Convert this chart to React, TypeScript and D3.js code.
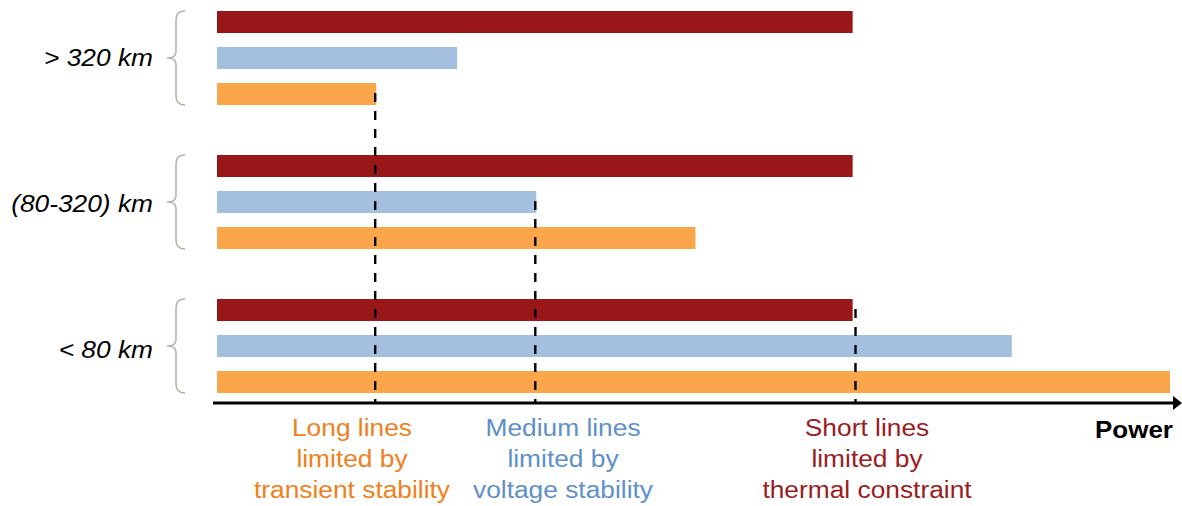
import React from "react";
import * as d3 from "d3";

const groups = ["> 320 km", "(80-320) km", "< 80 km"];
const series = ["thermal", "voltage", "transient"];
const thermalValues = [66.7, 66.7, 66.7];
const voltageValues = [25.2, 33.5, 83.4];
const transientValues = [16.7, 50.2, 100];
const limitValues = [16.6, 33.4, 67.0];
const limitFromGroup = [0, 1, 2];
const limitFromSeries = ["transient", "voltage", "thermal"];
const limitLabels = [
  ["Long lines", "limited by", "transient stability"],
  ["Medium lines", "limited by", "voltage stability"],
  ["Short lines", "limited by", "thermal constraint"],
];
const axisLabel = "Power";

const barColors: Record<string, string> = {
  thermal: "#9a1719",
  voltage: "#a4c0e0",
  transient: "#fca64c",
};
const textColors = ["#ef801c", "#5d90cc", "#9b1c1f"];
const labelCenters = [352, 563, 867];

export default function App() {
  const W = 1182, H = 506;
  const x = d3.scaleLinear().domain([0, 100]).range([217, 1170]);
  const yG = d3.scaleBand<string>().domain(groups).range([11, 11 + 144 * 3]).paddingInner(0);
  const yS = d3.scaleBand<string>().domain(series).range([0, 94]).paddingInner(14 / 36).paddingOuter(0);
  const values: Record<string, number[]> = {
    thermal: thermalValues,
    voltage: voltageValues,
    transient: transientValues,
  };
  const axisY = 403;
  const font = "Liberation Sans, Arial, sans-serif";

  const brace = (top: number, bottom: number) => {
    const mid = (top + bottom) / 2;
    const xr = 185, xs = 176, xt = 167;
    return `M${xr},${top} Q${xs},${top} ${xs},${top + 9} L${xs},${mid - 6} Q${xs},${mid} ${xt},${mid} Q${xs},${mid} ${xs},${mid + 6} L${xs},${bottom - 9} Q${xs},${bottom} ${xr},${bottom}`;
  };

  return (
    <svg width={W} height={H} style={{ position: "absolute", left: 0, top: 0, background: "#fff" }}>
      {groups.map((g, gi) => {
        const gy = yG(g)!;
        return (
          <g key={g}>
            {series.map((s) => (
              <rect key={s} x={x(0)} y={gy + yS(s)!} width={x(values[s][gi]) - x(0)} height={yS.bandwidth()} fill={barColors[s]} />
            ))}
            <path d={brace(gy, gy + 94)} fill="none" stroke="#b3b0a4" strokeWidth={1.5} />
            <text
              transform={`translate(153,${gy + 55 + gi * 2}) scale(1.12,1)`}
              textAnchor="end"
              fontFamily={font}
              fontStyle="italic"
              fontSize={23.5}
              fill="#000"
            >
              {g}
            </text>
          </g>
        );
      })}
      {limitValues.map((v, i) => {
        const gy = yG(groups[limitFromGroup[i]])!;
        const top = gy + yS(limitFromSeries[i])! + 10;
        return (
          <line key={i} x1={x(v)} x2={x(v)} y1={top} y2={axisY} stroke="#000" strokeWidth={2.4} strokeDasharray="9 9" />
        );
      })}
      <line x1={213} x2={1176} y1={axisY} y2={axisY} stroke="#000" strokeWidth={3} />
      <path d={`M1173,${axisY - 7} L1182,${axisY} L1173,${axisY + 7} Z`} fill="#000" />
      <text transform={`translate(1134,438) scale(1.06,1)`} textAnchor="middle" fontFamily={font} fontWeight="bold" fontSize={24.5} fill="#000">
        {axisLabel}
      </text>
      {limitLabels.map((lines, i) => (
        <g key={i}>
          {lines.map((t, li) => (
            <text
              key={li}
              transform={`translate(${labelCenters[i]},${436 + li * 31}) scale(1.13,1)`}
              textAnchor="middle"
              fontFamily={font}
              fontSize={23.3}
              fill={textColors[i]}
            >
              {t}
            </text>
          ))}
        </g>
      ))}
    </svg>
  );
}
